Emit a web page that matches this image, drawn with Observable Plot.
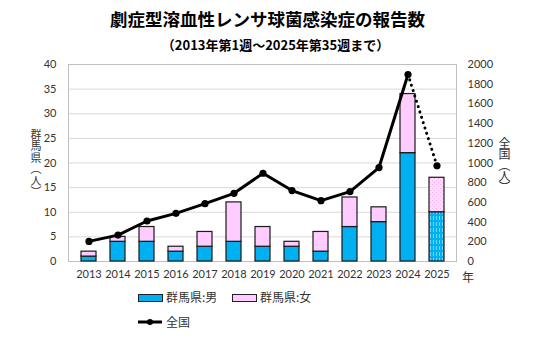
<!DOCTYPE html>
<html><head><meta charset="utf-8">
<script src="https://cdn.jsdelivr.net/npm/d3@7"></script>
<script src="https://cdn.jsdelivr.net/npm/@observablehq/plot@0.6"></script>
<style>
body{margin:0;background:#fff;font-family:"Noto Sans CJK JP",sans-serif;}
#wrap{position:relative;width:535px;height:345px;overflow:hidden;}
.abs{position:absolute;white-space:nowrap;color:#000;}
.vert{writing-mode:vertical-rl;text-orientation:upright;color:#333;line-height:1;}
.sw{position:absolute;width:23px;height:6px;border:1.2px solid #222;}
</style></head><body>
<div id="wrap">
<div class="abs" style="left:0;width:535px;top:6px;text-align:center;font-size:17.5px;font-weight:bold;">劇症型溶血性レンサ球菌感染症の報告数</div>
<div class="abs" style="left:8px;width:535px;top:35px;text-align:center;font-size:13px;font-weight:bold;">（2013年第1週～2025年第35週まで）</div>
<div id="chart" style="position:absolute;left:0;top:0;"></div>
<div class="abs vert" style="left:30px;top:129px;font-size:11px;letter-spacing:0.5px;">群馬県（人）</div>
<div class="abs vert" style="left:498px;top:137px;font-size:12px;letter-spacing:-1px;">全国（人）</div>
<div class="abs" style="left:462px;top:268px;font-size:12px;color:#333;">年</div>
<div class="sw" style="left:138px;top:294px;background:#00B0F0;"></div>
<div class="abs" style="left:166px;top:288px;font-size:12px;color:#333;">群馬県:男</div>
<div class="sw" style="left:232px;top:294px;background:#FFCCFF;"></div>
<div class="abs" style="left:260px;top:288px;font-size:12px;color:#333;">群馬県:女</div>
<svg class="abs" style="left:136px;top:316px;" width="30" height="12"><line x1="2" y1="6" x2="26" y2="6" stroke="#000" stroke-width="3"/><circle cx="14" cy="6" r="3" fill="#000"/></svg>
<div class="abs" style="left:166px;top:313px;font-size:12px;color:#333;">全国</div>
</div>
<script>
const years = ["2013","2014","2015","2016","2017","2018","2019","2020","2021","2022","2023","2024","2025"];
const male = [1,4,4,2,3,4,3,3,2,7,8,22,10];
const female = [1,1,3,1,3,8,4,1,4,6,3,12,7];
const national = [204,268,411,489,587,692,896,720,618,710,954,1898,971];
const leftTicks = [0,5,10,15,20,25,30,35,40];
const rightTicks = [0,200,400,600,800,1000,1200,1400,1600,1800,2000];
const ratio = 50;

const rows = years.map((y,i)=>({year:y, male:male[i], total:male[i]+female[i], nat:national[i]/ratio}));
const done = rows.filter(d=>d.year!=="2025");
const last = rows.filter(d=>d.year==="2025");
const solid = rows.slice(0, rows.length-1);
const dotted = rows.slice(rows.length-2);

const chart = Plot.plot({
  width:535, height:345,
  marginTop:64, marginBottom:84, marginLeft:68, marginRight:79,
  style:{fontFamily:"Lato, sans-serif", fontSize:"11px", color:"#333", background:"transparent"},
  x:{domain:years, paddingInner:0.5, paddingOuter:0.23, label:null},
  y:{domain:[0,40], label:null},
  marks:[
    Plot.gridY(leftTicks,{stroke:"#d9d9d9", strokeOpacity:1}),
    Plot.frame({stroke:"#bfbfbf"}),
    Plot.axisY({anchor:"left", ticks:leftTicks, tickSize:0, tickPadding:12, label:null}),
    Plot.axisY({anchor:"right", ticks:rightTicks.map(v=>v/ratio), tickFormat:d=>String(Math.round(d*ratio)), tickSize:0, tickPadding:11, label:null}),
    Plot.axisX({tickSize:0, tickPadding:9, label:null}),
    Plot.barY(done,{x:"year", y1:0, y2:"male", fill:"#00B0F0", stroke:"#1a1a1a", strokeWidth:1.2}),
    Plot.barY(done,{x:"year", y1:"male", y2:"total", fill:"#FFCCFF", stroke:"#1a1a1a", strokeWidth:1.2}),
    Plot.barY(last,{x:"year", y1:0, y2:"male", fill:"url(#patM)", stroke:"#1a1a1a", strokeWidth:1.2}),
    Plot.barY(last,{x:"year", y1:"male", y2:"total", fill:"url(#patF)", stroke:"#1a1a1a", strokeWidth:1.2}),
    Plot.line(solid,{x:"year", y:"nat", stroke:"#000", strokeWidth:3}),
    Plot.line(dotted,{x:"year", y:"nat", stroke:"#000", strokeWidth:3, strokeDasharray:"0.1,5.5", strokeLinecap:"round"}),
    Plot.dot(rows,{x:"year", y:"nat", r:3.6, fill:"#000"})
  ]
});
const defs = document.createElementNS("http://www.w3.org/2000/svg","defs");
defs.innerHTML = `
<pattern id="patM" width="3" height="6" patternUnits="userSpaceOnUse">
  <rect width="3" height="6" fill="#00B0F0"/>
  <line x1="1.5" y1="0" x2="1.5" y2="4" stroke="#8FDDF8" stroke-width="0.8"/>
</pattern>
<pattern id="patF" width="4" height="4" patternUnits="userSpaceOnUse">
  <rect width="4" height="4" fill="#FFDDFF"/>
  <rect x="0" y="0" width="1" height="1" fill="#F5B0EE"/>
  <rect x="2" y="2" width="1" height="1" fill="#F5B0EE"/>
</pattern>`;
chart.insertBefore(defs, chart.firstChild);
document.getElementById("chart").appendChild(chart);
</script>
</body></html>
